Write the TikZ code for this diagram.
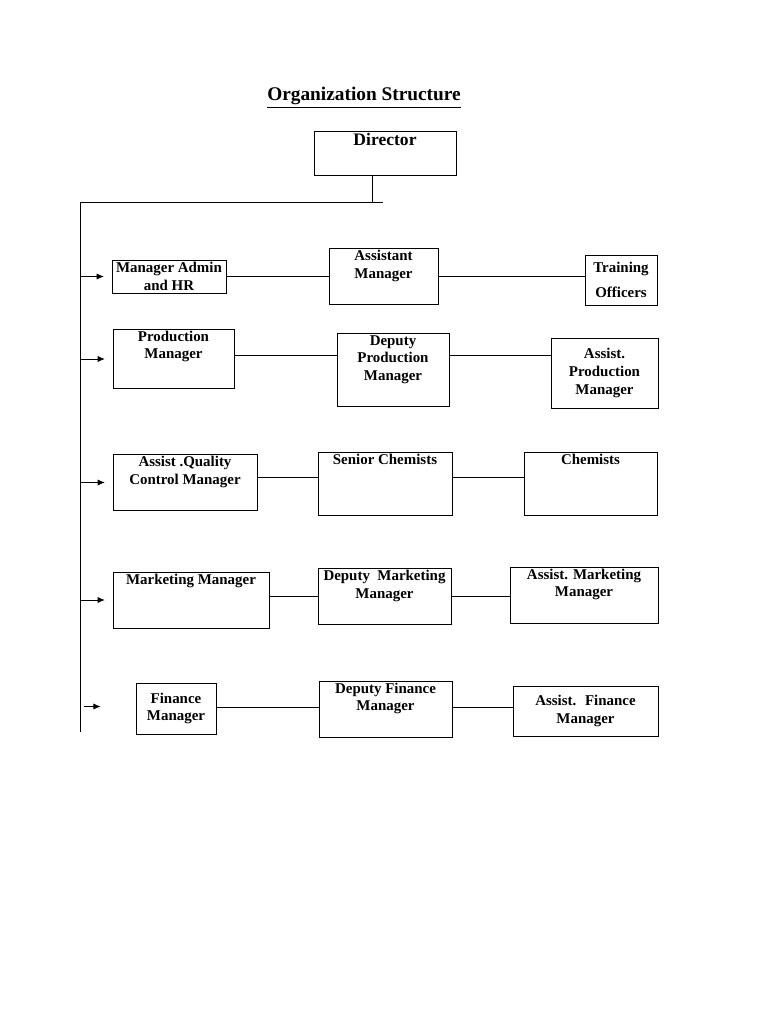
\documentclass[tikz,border=0pt]{standalone}
\usepackage{fontspec}
\setmainfont{Liberation Serif}
\usetikzlibrary{arrows.meta,positioning,calc}
\tikzset{box/.style={rectangle,draw,thin,align=center,font=\bfseries\fontsize{8.5}{10}\selectfont,inner sep=1pt},
boxsize/.style 2 args={minimum width=#1*0.02cm,minimum height=#2*0.02cm},
link/.style={-,thin},
feed/.style={-{Latex[length=4pt,width=3.5pt]},thin,shorten >=4.5pt}}
\begin{document}
\begin{tikzpicture}[x=0.02cm,y=-0.02cm]
\useasboundingbox[fill=white] (0,0) rectangle (768,1024);

%Title and director
 \node[font=\bfseries\fontsize{11}{13}\selectfont] (Title) at (364,98) {\underline{Organization Structure}};
 \node[box,font=\bfseries\fontsize{10}{12}\selectfont,boxsize={142}{33}] (Director) at (385,153.5) {Director\\[4pt]};

%Trunk line
 \coordinate (Knee) at (372,202);
 \coordinate (TrunkTop) at (80,202);
 \coordinate (TrunkEnd) at (80,732);
 \draw[link] (Director.south -| Knee) -- (Knee);
 \draw[link] (383,202) -- (TrunkTop) -- (TrunkEnd);

%Row 1
 \node[box,boxsize={114}{33}] (AdminHR) at (169,276.5) {Manager Admin\\and HR};
 \node[box,boxsize={109}{39}] (AsstMgr) at (383.5,276.5) {Assistant\\Manager\\[4pt]};
 \node[box,boxsize={72}{50}] (Training) at (621,280) {Training\\[4pt]Officers};

%Row 2
 \node[box,boxsize={121}{48}] (ProdMgr) at (173.5,359) {Production\\Manager\\[6pt]};
 \node[box,boxsize={112}{68}] (DepProd) at (393,370) {Deputy\\Production\\Manager\\[4pt]};
 \node[box,boxsize={107}{70}] (AstProd) at (604.5,373) {Assist.\\Production\\Manager};

%Row 3
 \node[box,boxsize={144}{49}] (QCMgr) at (185,482.5) {Assist .Quality\\Control Manager\\[4pt]};
 \node[box,boxsize={134}{46}] (SenChem) at (385,484) {Senior Chemists\\[18pt]};
 \node[box,boxsize={133}{47}] (Chem) at (590.5,483.5) {Chemists\\[18pt]};

%Row 4
 \node[box,boxsize={156}{44}] (MktMgr) at (191,600) {Marketing Manager\\[14pt]};
 \node[box,boxsize={133}{51}] (DepMkt) at (384.5,596.5) {Deputy~ Marketing\\Manager\\[4pt]};
 \node[box,boxsize={148}{50}] (AstMkt) at (584,595) {Assist. Marketing\\Manager\\[4pt]};

%Row 5
 \node[box,boxsize={80}{51}] (FinMgr) at (176,708.5) {Finance\\Manager};
 \node[box,boxsize={133}{50}] (DepFin) at (385.5,709) {Deputy Finance\\Manager\\[4pt]};
 \node[box,boxsize={145}{50}] (AstFin) at (585.5,711) {Assist.~ Finance\\Manager};

%Links between boxes
 \draw[link] (AdminHR.east) -- (AdminHR.east -| AsstMgr.west);
 \draw[link] (AsstMgr.east) -- (AsstMgr.east -| Training.west);
 \draw[link] ($(ProdMgr.east)+(0,-4)$) -- ($(ProdMgr.east -| DepProd.west)+(0,-4)$);
 \draw[link] ($(DepProd.east)+(0,-15)$) -- ($(DepProd.east -| AstProd.west)+(0,-15)$);
 \draw[link] ($(QCMgr.east)+(0,-5)$) -- ($(QCMgr.east -| SenChem.west)+(0,-5)$);
 \draw[link] ($(SenChem.east)+(0,-7)$) -- ($(SenChem.east -| Chem.west)+(0,-7)$);
 \draw[link] ($(MktMgr.east)+(0,-4)$) -- ($(MktMgr.east -| DepMkt.west)+(0,-4)$);
 \draw[link] (DepMkt.east) -- (DepMkt.east -| AstMkt.west);
 \draw[link] ($(FinMgr.east)+(0,-1)$) -- ($(FinMgr.east -| DepFin.west)+(0,-1)$);
 \draw[link] ($(DepFin.east)+(0,-2)$) -- ($(DepFin.east -| AstFin.west)+(0,-2)$);

%Feeds from trunk
 \draw[feed] (TrunkTop |- AdminHR) -- (AdminHR.west);
 \draw[feed] (TrunkTop |- ProdMgr) -- (ProdMgr.west);
 \draw[feed] (TrunkTop |- QCMgr) -- (QCMgr.west);
 \draw[feed] (TrunkTop |- MktMgr) -- (MktMgr.west);
 \draw[feed,shorten >=20pt] ($(TrunkTop |- FinMgr)+(4,-2)$) -- ($(FinMgr.west)+(0,-2)$);
\end{tikzpicture}
\end{document}
